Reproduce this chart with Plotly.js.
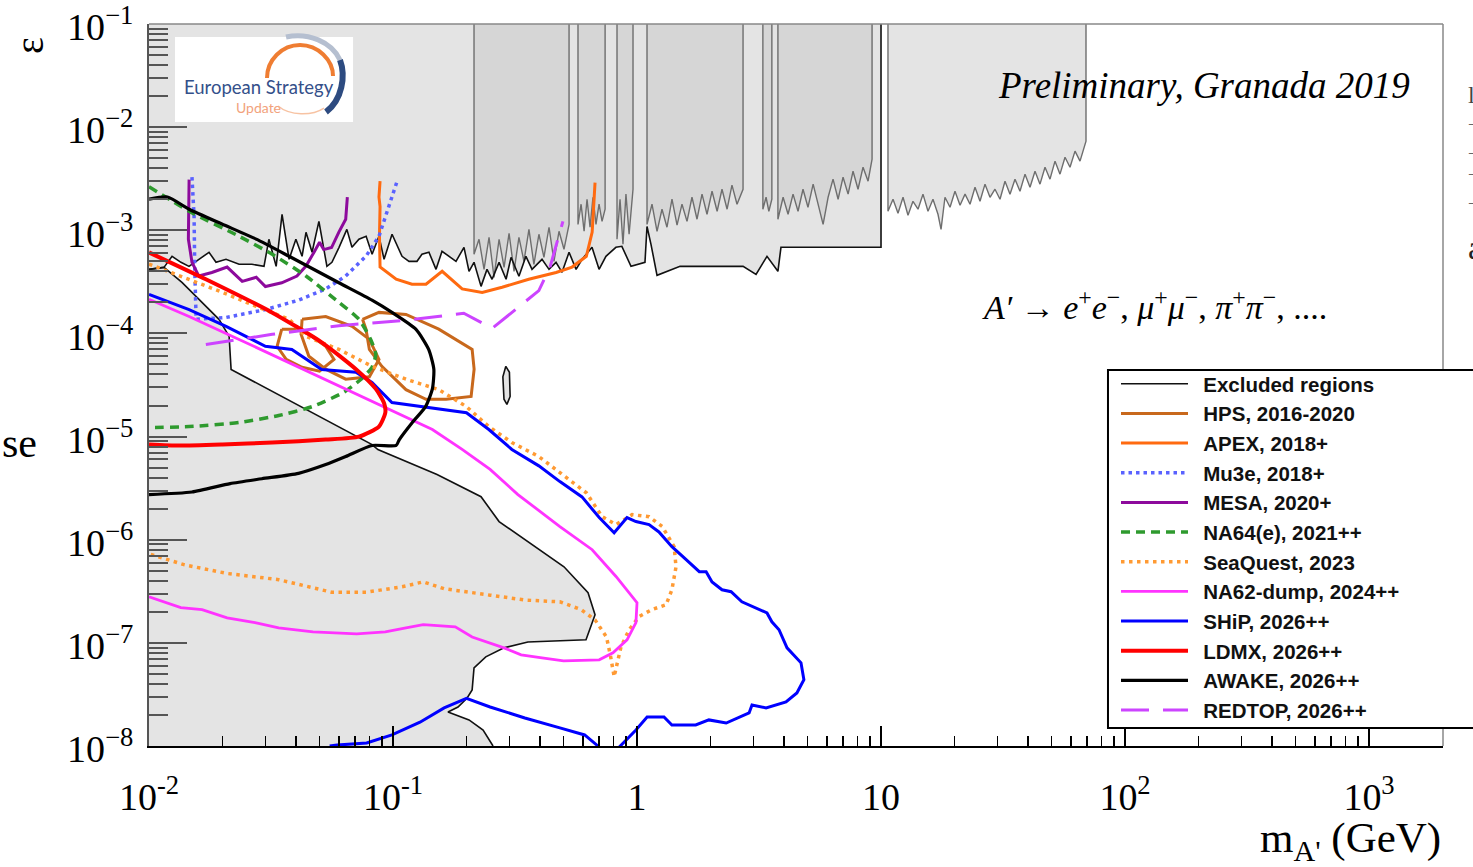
<!DOCTYPE html>
<html>
<head>
<meta charset="utf-8">
<script src="https://cdn.plot.ly/plotly-3.0.1.min.js"></script>
<style>html,body{margin:0;padding:0;background:#fff;}#chart{width:1473px;height:867px;}</style>
</head>
<body>
<div id="chart"></div>
<script>
// ---------- axis limits and ticks ----------
const massMin = 0.01, massMax = 2010;
const epsMin = 1e-8, epsMax = 0.1;
const xTickVals = [0.01, 0.1, 1, 10, 100, 1000];
const xTickText = ['10<sup>-2</sup>', '10<sup>-1</sup>', '1', '10', '10<sup>2</sup>', '10<sup>3</sup>'];
const yTickVals = [1e-8, 1e-7, 1e-6, 1e-5, 1e-4, 1e-3, 1e-2, 1e-1];
const yTickText = ['10<sup>−8</sup>', '10<sup>−7</sup>', '10<sup>−6</sup>', '10<sup>−5</sup>', '10<sup>−4</sup>', '10<sup>−3</sup>', '10<sup>−2</sup>', '10<sup>−1</sup>'];

// ---------- excluded regions ----------
// lower envelope of the upper excluded region (mass GeV, epsilon)
const envM = [0.01, 0.01152, 0.01243, 0.01352, 0.01459, 0.01603, 0.01762, 0.01882, 0.02068, 0.0234,
  0.0264, 0.0296, 0.031, 0.0332, 0.0351, 0.0375, 0.04, 0.0424, 0.044, 0.0466,
  0.0497, 0.0536, 0.0562, 0.0601, 0.0647, 0.0679, 0.0725, 0.0776, 0.0821, 0.0876,
  0.0919, 0.0991, 0.1089, 0.1163, 0.1254, 0.1314, 0.1404, 0.1501, 0.1588, 0.1812,
  0.1954, 0.2049, 0.2148, 0.2295, 0.2428, 0.2547, 0.2721, 0.2907, 0.3046, 0.3282,
  0.3506, 0.3713, 0.408, 0.4359, 0.4657, 0.4929, 0.5266, 0.5627, 0.5957, 0.654,
  0.699, 0.7459, 0.8195, 0.8669, 0.9449, 1.078, 1.099, 1.141, 1.208, 1.501,
  2.721, 3.075, 3.41, 3.78, 3.89, 10];
const envE = [4.18e-4, 4.37e-4, 5.59e-4, 4.89e-4, 4.47e-4, 5.23e-4, 6.12e-4, 4.89e-4, 5.23e-4, 4.68e-4,
  4.68e-4, 4.47e-4, 8.18e-4, 4.47e-4, 1.43e-3, 5.23e-4, 8.18e-4, 5.59e-4, 9.56e-4, 6.12e-4,
  1.22e-3, 4.47e-4, 4.89e-4, 6.84e-4, 1.02e-3, 6.84e-4, 8.18e-4, 8.75e-4, 5.85e-4, 8.75e-4,
  5.23e-4, 9.15e-4, 5.59e-4, 5.0e-4, 5.0e-4, 5.85e-4, 6.12e-4, 4.18e-4, 6.26e-4, 5.0e-4,
  6.84e-4, 4.0e-4, 4.89e-4, 2.86e-4, 4.18e-4, 3.35e-4, 4.89e-4, 3.35e-4, 5.47e-4, 3.58e-4,
  5.59e-4, 4.18e-4, 5.23e-4, 4.18e-4, 4.89e-4, 3.91e-4, 6.12e-4, 4.18e-4, 5.23e-4, 6.84e-4,
  4.18e-4, 5.59e-4, 6.84e-4, 6.99e-4, 4.47e-4, 4.89e-4, 1.09e-3, 7.31e-4, 3.66e-4, 4.47e-4,
  4.47e-4, 3.74e-4, 5.59e-4, 4.0e-4, 6.84e-4, 6.84e-4];
// upper edge of the lower (beam-dump) excluded region
const lowM = [0.01, 0.01152, 0.01365, 0.01603, 0.01936, 0.0213, 0.0217, 0.0821, 0.0867, 0.1515,
  0.2295, 0.2721, 0.382, 0.502, 0.63, 0.673, 0.618, 0.357, 0.285, 0.24,
  0.2148, 0.211, 0.2013, 0.1847, 0.168, 0.2049, 0.234, 0.257];
const lowE = [4.18e-4, 4.37e-4, 3.13e-4, 2.14e-4, 1.37e-4, 9.35e-5, 4.47e-5, 8.36e-6, 7.48e-6, 4.28e-6,
  2.61e-6, 1.5e-6, 8.55e-7, 5.47e-7, 3.06e-7, 1.87e-7, 1.07e-7, 1.02e-7, 8.94e-8, 7.31e-8,
  5.72e-8, 3.5e-8, 2.92e-8, 2.39e-8, 2.14e-8, 1.79e-8, 1.43e-8, 1.0e-8];
// small isolated excluded island
const islandM = [0.29, 0.30, 0.302, 0.293, 0.285, 0.282, 0.29];
const islandE = [4.8e-5, 4.2e-5, 2.45e-5, 2.05e-5, 2.3e-5, 3.8e-5, 4.8e-5];
// resonance-search regions (lower spiky edges)
const r1M = [0.2148, 0.2252, 0.2361, 0.2475, 0.2594, 0.2721, 0.2852, 0.299, 0.3134, 0.3282, 0.3441, 0.3607, 0.378, 0.3963, 0.4155, 0.4359, 0.4568, 0.479, 0.502, 0.5266];
const r1E = [5.85e-4, 8.18e-4, 4.18e-4, 8.55e-4, 3.5e-4, 8.18e-4, 4.37e-4, 9.35e-4, 4.0e-4, 8.55e-4, 5.0e-4, 1.02e-3, 4.68e-4, 9.15e-4, 5.47e-4, 1.07e-3, 5.0e-4, 9.78e-4, 6.54e-4, 1.14e-3];
const r2M = [0.573, 0.590, 0.607, 0.624, 0.642, 0.660, 0.679, 0.699, 0.719, 0.740];
const r2E = [1.14e-3, 1.79e-3, 9.78e-4, 2.0e-3, 1.07e-3, 2.09e-3, 1.14e-3, 1.79e-3, 1.22e-3, 1.6e-3];
const r3M = [0.828, 0.852, 0.876, 0.901, 0.928, 0.963];
const r3E = [8.18e-4, 2.0e-3, 7.31e-4, 2.24e-3, 9.15e-4, 2.5e-3];
const r4M = [1.099, 1.152, 1.208, 1.266, 1.327, 1.391, 1.459, 1.529, 1.603, 1.68, 1.762, 1.847, 1.936, 2.03, 2.13, 2.23, 2.34, 2.45, 2.57, 2.72];
const r4E = [1.14e-3, 1.79e-3, 9.78e-4, 1.6e-3, 1.07e-3, 2.0e-3, 1.12e-3, 1.79e-3, 1.22e-3, 2.09e-3, 1.28e-3, 2.24e-3, 1.43e-3, 2.39e-3, 1.53e-3, 2.5e-3, 1.6e-3, 2.74e-3, 1.79e-3, 2.5e-3];
const r5M = [3.28, 3.38, 3.47, 3.57];
const r5E = [1.6e-3, 2.09e-3, 1.53e-3, 2.0e-3];
const r6M = [3.78, 3.97, 4.16, 4.36, 4.57, 4.79, 5.02, 5.27, 5.52, 5.79, 6.07, 6.36, 6.67, 6.99, 7.33, 7.68, 8.05, 8.44, 8.85, 9.19];
const r6E = [1.28e-3, 2.09e-3, 1.43e-3, 2.24e-3, 1.53e-3, 2.5e-3, 1.67e-3, 2.8e-3, 1.79e-3, 1.14e-3, 2.09e-3, 3.13e-3, 2.0e-3, 3.27e-3, 2.24e-3, 3.74e-3, 2.5e-3, 4.09e-3, 2.99e-3, 4.89e-3];
const r7M = [10.68, 11.20, 11.74, 12.31, 12.90, 13.52, 14.18, 14.86, 15.58, 16.33,
  17.12, 17.62, 18.29, 19.18, 20.10, 21.08, 22.10, 23.16, 24.28, 25.45,
  26.68, 27.97, 29.32, 30.74, 32.22, 33.78, 35.41, 37.12, 38.92, 40.80,
  42.77, 44.83, 47.00, 49.27, 51.66, 54.15, 56.77, 59.51, 62.39, 65.40, 69.20];
const r7E = [1.53e-3, 2.0e-3, 1.46e-3, 2.09e-3, 1.40e-3, 1.91e-3, 1.60e-3, 2.24e-3, 1.53e-3, 2.0e-3,
  1.43e-3, 1.02e-3, 2.09e-3, 1.67e-3, 2.39e-3, 1.75e-3, 2.24e-3, 1.79e-3, 2.61e-3, 1.91e-3,
  2.80e-3, 2.09e-3, 2.50e-3, 2.0e-3, 2.99e-3, 2.24e-3, 3.13e-3, 2.39e-3, 3.50e-3, 2.61e-3,
  3.74e-3, 2.80e-3, 4.09e-3, 3.13e-3, 4.68e-3, 3.50e-3, 5.11e-3, 4.09e-3, 5.85e-3, 4.68e-3, 7.31e-3];

// ---------- projected sensitivities ----------
const hpsAM = [0.035, 0.0335, 0.0365, 0.0424, 0.050, 0.0573, 0.053, 0.0452, 0.040, 0.035];
const hpsAE = [1.1e-4, 7.5e-5, 5.6e-5, 4.7e-5, 4.3e-5, 5.6e-5, 7.5e-5, 9.8e-5, 1.1e-4, 1.1e-4];
const hpsBM = [0.0424, 0.053, 0.068, 0.080, 0.0876, 0.080, 0.064, 0.053, 0.0452, 0.042, 0.0424];
const hpsBE = [1.37e-4, 1.46e-4, 1.17e-4, 8.75e-5, 5.6e-5, 3.8e-5, 3.6e-5, 4.5e-5, 6.0e-5, 9.8e-5, 1.37e-4];
const hpsCM = [0.075, 0.0876, 0.113, 0.154, 0.211, 0.215, 0.209, 0.165, 0.1365, 0.113, 0.090, 0.080, 0.0775, 0.075];
const hpsCE = [1.37e-4, 1.6e-4, 1.53e-4, 1.1e-4, 7.0e-5, 4.5e-5, 2.45e-5, 2.3e-5, 2.3e-5, 2.85e-5, 4.8e-5, 7.0e-5, 1.1e-4, 1.37e-4];
const apexM = [0.0885, 0.0876, 0.0885, 0.088, 0.0885, 0.103, 0.1196, 0.1365, 0.159, 0.192, 0.232, 0.28, 0.36, 0.466, 0.542, 0.62, 0.655, 0.673];
const apexE = [3.0e-3, 2.1e-3, 1.7e-3, 8.75e-4, 4.4e-4, 3.35e-4, 3.0e-4, 3.0e-4, 4.0e-4, 2.7e-4, 2.5e-4, 2.8e-4, 3.35e-4, 3.9e-4, 4.4e-4, 5.6e-4, 9.6e-4, 2.9e-3];
const mu3eM = [0.015, 0.0153, 0.0154, 0.0156, 0.0207, 0.030, 0.041, 0.053, 0.064, 0.0775, 0.0876, 0.096, 0.104];
const mu3eE = [3.27e-3, 1.37e-3, 4.2e-4, 1.37e-4, 1.43e-4, 1.7e-4, 2.1e-4, 2.7e-4, 3.6e-4, 5.6e-4, 8.75e-4, 1.7e-3, 3.0e-3];
const mesaM = [0.0146, 0.0145, 0.015, 0.016, 0.0181, 0.0209, 0.0241, 0.0275, 0.030, 0.035, 0.0404, 0.044, 0.0474, 0.050, 0.052, 0.056, 0.060, 0.064, 0.065];
const mesaE = [3.1e-3, 8.2e-4, 4.9e-4, 3.6e-4, 3.9e-4, 4.4e-4, 3.2e-4, 3.5e-4, 2.85e-4, 3.1e-4, 3.6e-4, 4.5e-4, 6.1e-4, 7.65e-4, 6.5e-4, 6.8e-4, 9.6e-4, 1.28e-3, 2.1e-3];
const na64M = [0.01, 0.0146, 0.0234, 0.032, 0.044, 0.060, 0.0725, 0.081, 0.085, 0.082, 0.074, 0.063, 0.0466, 0.034, 0.0234, 0.0146, 0.01];
const na64E = [2.65e-3, 1.53e-3, 8.75e-4, 5.85e-4, 3.6e-4, 2.0e-4, 1.37e-4, 8.75e-5, 6.25e-5, 4.7e-5, 3.6e-5, 2.7e-5, 1.95e-5, 1.6e-5, 1.37e-5, 1.25e-5, 1.22e-5];
const seaquestM = [0.01, 0.0146, 0.020, 0.0275, 0.0375, 0.044, 0.060, 0.082, 0.113, 0.154, 0.20, 0.247, 0.307, 0.396, 0.527, 0.62, 0.72, 0.82, 0.955, 1.12, 1.27, 1.42, 1.445, 1.39, 1.315, 1.15, 1.02, 0.928, 0.86, 0.806, 0.78, 0.75, 0.673, 0.59, 0.483, 0.347, 0.25, 0.162, 0.133, 0.109, 0.078, 0.056, 0.034, 0.021, 0.014, 0.01];
const seaquestE = [4.7e-4, 3.35e-4, 2.5e-4, 1.83e-4, 1.37e-4, 9.35e-5, 7.0e-5, 4.8e-5, 3.6e-5, 2.85e-5, 1.95e-5, 1.25e-5, 8.75e-6, 6.4e-6, 3.8e-6, 2.85e-6, 1.67e-6, 1.4e-6, 1.75e-6, 1.67e-6, 1.34e-6, 8.55e-7, 5.45e-7, 3.27e-7, 2.34e-7, 2.1e-7, 1.8e-7, 1.34e-7, 9.15e-8, 4.7e-8, 7.3e-8, 1.14e-7, 1.67e-7, 2.1e-7, 2.5e-7, 2.6e-7, 2.9e-7, 3.35e-7, 3.9e-7, 3.5e-7, 3.1e-7, 3.1e-7, 4.1e-7, 4.7e-7, 5.7e-7, 7.3e-7];
const na62M = [0.01, 0.0146, 0.0234, 0.0375, 0.060, 0.096, 0.145, 0.192, 0.25, 0.325, 0.483, 0.655, 0.82, 1.0, 0.99, 0.91, 0.797, 0.70, 0.50, 0.408, 0.335, 0.285, 0.211, 0.18, 0.133, 0.113, 0.093, 0.071, 0.047, 0.034, 0.0272, 0.0209, 0.0165, 0.0135, 0.01];
const na62E = [2.14e-4, 1.46e-4, 8.75e-5, 5.2e-5, 3.05e-5, 1.83e-5, 1.17e-5, 7.5e-6, 4.8e-6, 2.74e-6, 1.34e-6, 8.0e-7, 4.4e-7, 2.45e-7, 1.57e-7, 1.07e-7, 8.0e-8, 6.85e-8, 6.7e-8, 7.15e-8, 7.65e-8, 8.95e-8, 1.14e-7, 1.43e-7, 1.5e-7, 1.4e-7, 1.28e-7, 1.22e-7, 1.28e-7, 1.4e-7, 1.57e-7, 1.75e-7, 2.1e-7, 2.2e-7, 2.8e-7];
const shipM = [0.01, 0.0146, 0.0207, 0.030, 0.0385, 0.051, 0.0705, 0.082, 0.099, 0.14, 0.20, 0.247, 0.307, 0.396, 0.483, 0.595, 0.70, 0.806, 0.91, 0.99, 1.12, 1.23, 1.39, 1.59, 1.8, 1.92, 2.03, 2.23, 2.43, 2.69, 3.07, 3.41, 3.57, 3.82, 4.12, 4.48, 4.7, 4.83, 4.52, 4.08, 3.38, 2.96, 2.88, 2.32, 1.97, 1.74, 1.39, 1.29, 1.1, 0.99, 0.84, 0.78, 0.74, 0.685, 0.61, 0.483, 0.347, 0.25, 0.20, 0.162, 0.129, 0.099, 0.078, 0.059, 0.055];
const shipE = [2.39e-4, 1.7e-4, 1.17e-4, 7.5e-5, 7.0e-5, 4.47e-5, 4.2e-5, 3.35e-5, 2.14e-5, 1.9e-5, 1.7e-5, 1.17e-5, 7.5e-6, 5.2e-6, 3.66e-6, 2.6e-6, 1.64e-6, 1.17e-6, 1.64e-6, 1.5e-6, 1.4e-6, 1.19e-6, 8.55e-7, 6.4e-7, 4.9e-7, 4.9e-7, 3.9e-7, 3.27e-7, 3.13e-7, 2.5e-7, 2.19e-7, 1.95e-7, 1.6e-7, 1.34e-7, 8.95e-8, 7.15e-8, 6.4e-8, 4.4e-8, 3.27e-8, 2.67e-8, 2.34e-8, 2.5e-8, 2.09e-8, 1.67e-8, 1.79e-8, 1.6e-8, 1.6e-8, 1.91e-8, 1.91e-8, 1.43e-8, 9.6e-9, 7.3e-9, 7.3e-9, 1.02e-8, 1.28e-8, 1.5e-8, 1.87e-8, 2.39e-8, 2.9e-8, 2.34e-8, 1.7e-8, 1.28e-8, 1.07e-8, 1.02e-8, 1.0e-8];
const ldmxM = [0.01, 0.0171, 0.0319, 0.051, 0.0705, 0.085, 0.092, 0.093, 0.0876, 0.0725, 0.053, 0.032, 0.020, 0.0133, 0.01];
const ldmxE = [6.1e-4, 3.35e-4, 1.6e-4, 8.2e-5, 4.5e-5, 2.9e-5, 2.1e-5, 1.7e-5, 1.25e-5, 1.0e-5, 9.35e-6, 8.75e-6, 8.4e-6, 8.2e-6, 8.4e-6];
const awakeM = [0.01, 0.0119, 0.0146, 0.0199, 0.0275, 0.0375, 0.060, 0.082, 0.099, 0.124, 0.14, 0.147, 0.145, 0.136, 0.12, 0.106, 0.103, 0.082, 0.064, 0.053, 0.041, 0.029, 0.0215, 0.015, 0.01];
const awakeE = [2.0e-3, 2.1e-3, 1.6e-3, 1.15e-3, 8.2e-4, 5.6e-4, 3.1e-4, 2.1e-4, 1.6e-4, 1.1e-4, 7.0e-5, 4.5e-5, 2.9e-5, 1.95e-5, 1.37e-5, 9.3e-6, 8.2e-6, 8.2e-6, 6.4e-6, 5.35e-6, 4.4e-6, 3.9e-6, 3.5e-6, 2.9e-6, 2.74e-6];
const redtopM = [0.0171, 0.032, 0.060, 0.113, 0.195, 0.255, 0.396, 0.44, 0.497];
const redtopE = [7.8e-5, 9.8e-5, 1.19e-4, 1.34e-4, 1.57e-4, 1.12e-4, 2.6e-4, 4.4e-4, 1.22e-3];

// ---------- build traces ----------
const LIGHT = '#e4e4e4', DARK = '#d6d6d6', SPIKE = '#6e6e6e';
function fillPoly(xs, ys, color, lineColor, lineW) {
  return {x: xs, y: ys, type: 'scatter', mode: 'lines', fill: 'toself', fillcolor: color,
    line: {color: lineColor || color, width: lineW || 0}, showlegend: false, hoverinfo: 'skip'};
}
function hangingRegion(m, e, color) {
  return fillPoly([m[0]].concat(m, [m[m.length - 1]]), [epsMax].concat(e, [epsMax]), color, SPIKE, 1.4);
}
const traces = [];
traces.push(fillPoly(envM.concat([envM[envM.length - 1], massMin]), envE.concat([epsMax, epsMax]), LIGHT));
traces.push(fillPoly(lowM.concat([massMin]), lowE.concat([epsMin]), LIGHT));
traces.push(fillPoly(islandM, islandE, LIGHT));
traces.push(hangingRegion(r7M, r7E, LIGHT));
[[r1M, r1E], [r2M, r2E], [r3M, r3E], [r4M, r4E], [r5M, r5E], [r6M, r6E]].forEach(function (r) {
  traces.push(hangingRegion(r[0], r[1], DARK));
});
const GAP = '\u2002';
traces.push({name: GAP + 'Excluded regions', type: 'scatter', mode: 'lines',
  x: envM.concat([envM[envM.length - 1], null], lowM, [null], islandM),
  y: envE.concat([epsMax, null], lowE, [null], islandE),
  line: {color: '#111', width: 1.6}, connectgaps: false, hoverinfo: 'skip'});

function curve(name, xs, ys, color, width, dash, shape) {
  return {name: GAP + name, type: 'scatter', mode: 'lines', x: xs, y: ys, connectgaps: false,
    line: {color: color, width: width, dash: dash || 'solid', shape: shape || 'linear', smoothing: 0.6},
    hoverinfo: 'skip'};
}
traces.push(curve('HPS, 2016-2020', hpsAM.concat([null], hpsBM, [null], hpsCM), hpsAE.concat([null], hpsBE, [null], hpsCE), '#c8681c', 3));
traces.push(curve('APEX, 2018+', apexM, apexE, '#ff6a10', 3));
traces.push(curve('Mu3e, 2018+', mu3eM, mu3eE, '#5a62ff', 3.5, '3.5px,4px'));
traces.push(curve('MESA, 2020+', mesaM, mesaE, '#8d0a9c', 3));
traces.push(curve('NA64(e), 2021++', na64M, na64E, '#2e9a2e', 3.5, '9px,6px', 'spline'));
traces.push(curve('SeaQuest, 2023', seaquestM, seaquestE, '#ff9a33', 3.5, '3.5px,4.5px'));
traces.push(curve('NA62-dump, 2024++', na62M, na62E, '#ff33ff', 2.8));
traces.push(curve('SHiP, 2026++', shipM, shipE, '#0000ff', 3));
traces.push(curve('LDMX, 2026++', ldmxM, ldmxE, '#ff0000', 4, 'solid', 'spline'));
traces.push(curve('AWAKE, 2026++', awakeM, awakeE, '#000000', 3.2, 'solid', 'spline'));
traces.push(curve('REDTOP, 2026++', redtopM, redtopE, '#cc44ff', 3, '28px,14px'));

const serif = 'Liberation Serif, Times New Roman, serif';
function edgeText(t, yPaper, size, color) {
  return {xref: 'paper', yref: 'paper', x: 1.0178, y: yPaper, xanchor: 'left', yanchor: 'middle', showarrow: false,
    text: t, font: {family: serif, size: size, color: color}};
}
const layout = {
  width: 1473, height: 867,
  margin: {l: 149, r: 30, t: 24, b: 121, autoexpand: false},
  paper_bgcolor: '#ffffff', plot_bgcolor: '#ffffff',
  showlegend: true, hovermode: false,
  xaxis: {type: 'log', range: [Math.log10(massMin), Math.log10(massMax)],
    tickmode: 'array', tickvals: xTickVals, ticktext: xTickText,
    ticks: 'inside', ticklen: 20, tickwidth: 1.5, tickcolor: '#000',
    showline: true, linecolor: '#000', linewidth: 2, showgrid: false, zeroline: false,
    tickfont: {family: serif, size: 38, color: '#000'}, ticklabelstandoff: 16, ticklabeloverflow: 'allow',
    minor: {ticks: 'inside', ticklen: 10, tickwidth: 1.5, tickcolor: '#000', dtick: 'D1', showgrid: false}},
  yaxis: {type: 'log', range: [Math.log10(epsMin), Math.log10(epsMax)],
    tickmode: 'array', tickvals: yTickVals, ticktext: yTickText,
    ticks: 'inside', ticklen: 38, tickwidth: 2, tickcolor: '#555',
    showline: true, linecolor: '#555', linewidth: 2, showgrid: false, zeroline: false,
    tickfont: {family: serif, size: 38, color: '#000'}, ticklabelstandoff: 6, ticklabelshift: 3, ticklabeloverflow: 'allow',
    minor: {ticks: 'inside', ticklen: 19, tickwidth: 2, tickcolor: '#555', dtick: 'D1', showgrid: false}},
  legend: {x: 0.7473, y: 0.5291, xanchor: 'left', yanchor: 'top', bgcolor: 'rgba(0,0,0,0)',
    borderwidth: 0, itemwidth: 67,
    font: {family: 'Liberation Sans, Arial, sans-serif', size: 20.5, color: '#111', weight: 'bold'},
    traceorder: 'normal'},
  shapes: [
    {type: 'line', xref: 'paper', yref: 'paper', x0: 0, x1: 1, y0: 1, y1: 1, line: {color: '#888', width: 1.5}},
    {type: 'line', xref: 'paper', yref: 'paper', x0: 1, x1: 1, y0: 0, y1: 1, line: {color: '#888', width: 1.5}},
    {type: 'rect', xref: 'paper', yref: 'paper', x0: 0.7411, x1: 1.03, y0: 0.0249, y1: 0.5208,
      fillcolor: '#ffffff', line: {color: '#000', width: 2}},
    {type: 'rect', xref: 'paper', yref: 'paper', x0: 0.0201, x1: 0.1577, y0: 0.8643, y1: 0.982, fillcolor: '#ffffff', line: {width: 0}},
    {type: 'path', xref: 'paper', yref: 'paper', xsizemode: 'pixel', ysizemode: 'pixel', xanchor: 0.1167, yanchor: 0.9252,
      path: 'M -33 0 C -33 18 -18 33 0 33 C 18 33 33 18 33 2', line: {color: '#ef7d32', width: 4}},
    {type: 'path', xref: 'paper', yref: 'paper', xsizemode: 'pixel', ysizemode: 'pixel', xanchor: 0.1167, yanchor: 0.9252,
      path: 'M -22 -28 C -10 -38 12 -38 24 -30', line: {color: '#f7c3a3', width: 1.5}},
    {type: 'path', xref: 'paper', yref: 'paper', xsizemode: 'pixel', ysizemode: 'pixel', xanchor: 0.1167, yanchor: 0.9252,
      path: 'M -14 41 C 8 46 32 36 40 18', line: {color: '#b5bfd0', width: 5}},
    {type: 'path', xref: 'paper', yref: 'paper', xsizemode: 'pixel', ysizemode: 'pixel', xanchor: 0.1167, yanchor: 0.9252,
      path: 'M 40 18 C 46 2 42 -22 26 -34', line: {color: '#2d4b80', width: 6}}
  ],
  annotations: [
    {xref: 'paper', yref: 'paper', x: 0.976, y: 0.9155, xanchor: 'right', yanchor: 'middle', showarrow: false,
      text: '<i>Preliminary, Granada 2019</i>', font: {family: serif, size: 37, color: '#000'}},
    {xref: 'paper', yref: 'paper', x: 0.7774, y: 0.6108, xanchor: 'center', yanchor: 'middle', showarrow: false,
      text: '<i>A′</i> → <i>e</i><sup>+</sup><i>e</i><sup>−</sup>, <i>μ</i><sup>+</sup><i>μ</i><sup>−</sup>, <i>π</i><sup>+</sup><i>π</i><sup>−</sup>, ....',
      font: {family: serif, size: 34, color: '#000'}},
    {xref: 'paper', yref: 'paper', x: -0.092, y: 0.971, xanchor: 'center', yanchor: 'middle', showarrow: false,
      text: 'ε', textangle: -90, font: {family: serif, size: 40, color: '#000'}},
    {xref: 'paper', yref: 'paper', x: 1, y: -0.132, xanchor: 'right', yanchor: 'middle', showarrow: false,
      text: "m<sub>A'</sub>\u00a0(GeV)", font: {family: serif, size: 43, color: '#000'}},
    {xref: 'paper', yref: 'paper', x: -0.1151, y: 0.4197, xanchor: 'left', yanchor: 'middle', showarrow: false,
      text: 'se', font: {family: serif, size: 42, color: '#000'}},
    {xref: 'paper', yref: 'paper', x: 0.085, y: 0.913, xanchor: 'center', yanchor: 'middle', showarrow: false,
      text: 'European Strategy', font: {family: 'Lato, Open Sans, sans-serif', size: 18.5, color: '#34508a'}},
    {xref: 'paper', yref: 'paper', x: 0.085, y: 0.885, xanchor: 'center', yanchor: 'middle', showarrow: false,
      text: 'Update', font: {family: 'Lato, Open Sans, sans-serif', size: 14, color: '#f2a27c'}},
    edgeText('l', 0.9016, 24, '#444'),
    edgeText('–', 0.8629, 18, '#666'),
    edgeText('–', 0.8227, 18, '#666'),
    edgeText('–', 0.7936, 18, '#666'),
    edgeText('–', 0.7535, 18, '#666'),
    edgeText('a', 0.6898, 34, '#222')
  ]
};
Plotly.newPlot('chart', traces, layout, {displayModeBar: false, staticPlot: true});
</script>
</body>
</html>
